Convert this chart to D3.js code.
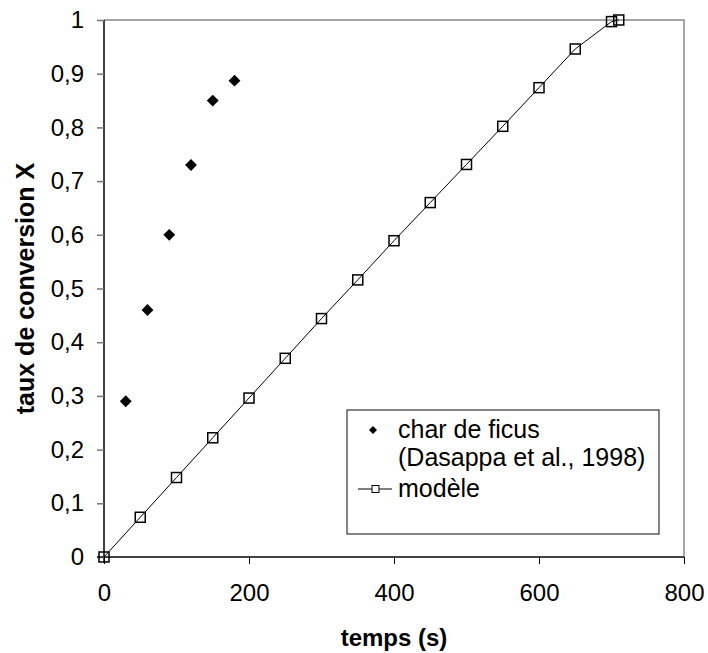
<!DOCTYPE html>
<html>
<head>
<meta charset="utf-8">
<script src="https://cdn.jsdelivr.net/npm/d3@7"></script>
<style>
  body { margin: 0; background: #fff; }
  text { font-family: Arial, "Liberation Sans", sans-serif; }
</style>
</head>
<body>
<div id="chart"></div>
<script>
// measured points (char de ficus)
const ficusTime = [30, 60, 90, 120, 150, 180];
const ficusX = [0.29, 0.46, 0.60, 0.73, 0.85, 0.887];
// model curve
const modelTime = [0, 50, 100, 150, 200, 250, 300, 350, 400, 450, 500, 550, 600, 650, 700, 710];
const modelX = [0, 0.074, 0.148, 0.222, 0.296, 0.37, 0.444, 0.516, 0.589, 0.66, 0.731, 0.802, 0.874, 0.946, 0.997, 1.0];
const xTicks = [0, 200, 400, 600, 800];
const yTicks = [0, 0.1, 0.2, 0.3, 0.4, 0.5, 0.6, 0.7, 0.8, 0.9, 1];
const legendLabels = ["char de ficus", "(Dasappa et al., 1998)", "modèle"];

const W = 708, H = 653;
const margin = {top: 20, right: 24, bottom: 96, left: 104};
const width = W - margin.left - margin.right;
const height = H - margin.top - margin.bottom;

const svg = d3.select("#chart")
  .append("svg")
    .attr("width", W)
    .attr("height", H)
  .append("g")
    .attr("transform", `translate(${margin.left},${margin.top})`);

const x = d3.scaleLinear().domain([0, 800]).range([0, width]);
const y = d3.scaleLinear().domain([0, 1]).range([height, 0]);

const fmt = d => d3.format("")(+d.toFixed(1)).replace(".", ",");

// top & right frame (grey)
svg.append("path")
  .attr("d", `M0,0H${width}V${height}`)
  .attr("fill", "none")
  .attr("stroke", "#888")
  .attr("stroke-width", 1.5);

// y axis
const yAxis = svg.append("g")
  .call(d3.axisLeft(y).tickValues(yTicks).tickSize(7).tickPadding(13).tickFormat(fmt));
yAxis.select(".domain").attr("stroke", "#000").attr("stroke-width", 1.5).attr("d", `M0,0V${height + 6}`);
yAxis.selectAll(".tick line").attr("stroke", "#777").attr("stroke-width", 1.5);
yAxis.selectAll("text").style("font-size", "24px").attr("fill", "#000");

// x axis
const xAxis = svg.append("g")
  .attr("transform", `translate(0,${height})`)
  .call(d3.axisBottom(x).tickValues(xTicks).tickSize(7).tickPadding(20));
xAxis.select(".domain").attr("stroke", "#444").attr("stroke-width", 2).attr("d", `M-7,0H${width}`);
xAxis.selectAll(".tick line").attr("stroke", "#000").attr("stroke-width", 1);
xAxis.selectAll("text").style("font-size", "24px").attr("fill", "#000");

// axis titles
svg.append("text")
  .attr("x", width / 2)
  .attr("y", height + 89)
  .style("text-anchor", "middle")
  .style("font-size", "24px")
  .style("font-weight", "bold")
  .text("temps (s)");

svg.append("text")
  .attr("transform", `translate(${34 - margin.left},${height / 2}) rotate(-90)`)
  .style("text-anchor", "middle")
  .style("font-size", "25px")
  .style("font-weight", "bold")
  .text("taux de conversion X");

// model line
const model = modelTime.map((t, i) => ({t: t, v: modelX[i]}));
svg.append("path")
  .datum(model)
  .attr("d", d3.line().x(d => x(d.t)).y(d => y(d.v)))
  .attr("fill", "none")
  .attr("stroke", "#000")
  .attr("stroke-width", 1);

svg.selectAll(".sq")
  .data(model)
  .enter()
  .append("rect")
    .attr("x", d => x(d.t) - 5)
    .attr("y", d => y(d.v) - 5)
    .attr("width", 10)
    .attr("height", 10)
    .attr("fill", "none")
    .attr("stroke", "#000")
    .attr("stroke-width", 1.5);

// measured diamonds
const diamond = d3.symbol().type(d3.symbolSquare).size(70);
svg.selectAll(".dia")
  .data(ficusTime.map((t, i) => ({t: t, v: ficusX[i]})))
  .enter()
  .append("path")
    .attr("d", diamond)
    .attr("transform", d => `translate(${x(d.t)},${y(d.v)}) rotate(45)`)
    .attr("fill", "#000");

// legend
const lg = svg.append("g").attr("transform", `translate(${347 - margin.left},${410 - margin.top})`);
lg.append("rect")
  .attr("width", 312)
  .attr("height", 124)
  .attr("fill", "#fff")
  .attr("stroke", "#333")
  .attr("stroke-width", 1.2);

lg.append("path")
  .attr("d", d3.symbol().type(d3.symbolSquare).size(32))
  .attr("transform", "translate(26,20) rotate(45)")
  .attr("fill", "#000");

const lgY = [28, 56, 87];
lg.selectAll(".lt")
  .data(legendLabels)
  .enter()
  .append("text")
    .attr("x", 51)
    .attr("y", (d, i) => lgY[i])
    .style("font-size", "25px")
    .text(d => d);

lg.append("line")
  .attr("x1", 11).attr("x2", 45)
  .attr("y1", 79).attr("y2", 79)
  .attr("stroke", "#000");
lg.append("rect")
  .attr("x", 25).attr("y", 75.5)
  .attr("width", 7).attr("height", 7)
  .attr("fill", "#fff")
  .attr("stroke", "#000");
</script>
</body>
</html>
